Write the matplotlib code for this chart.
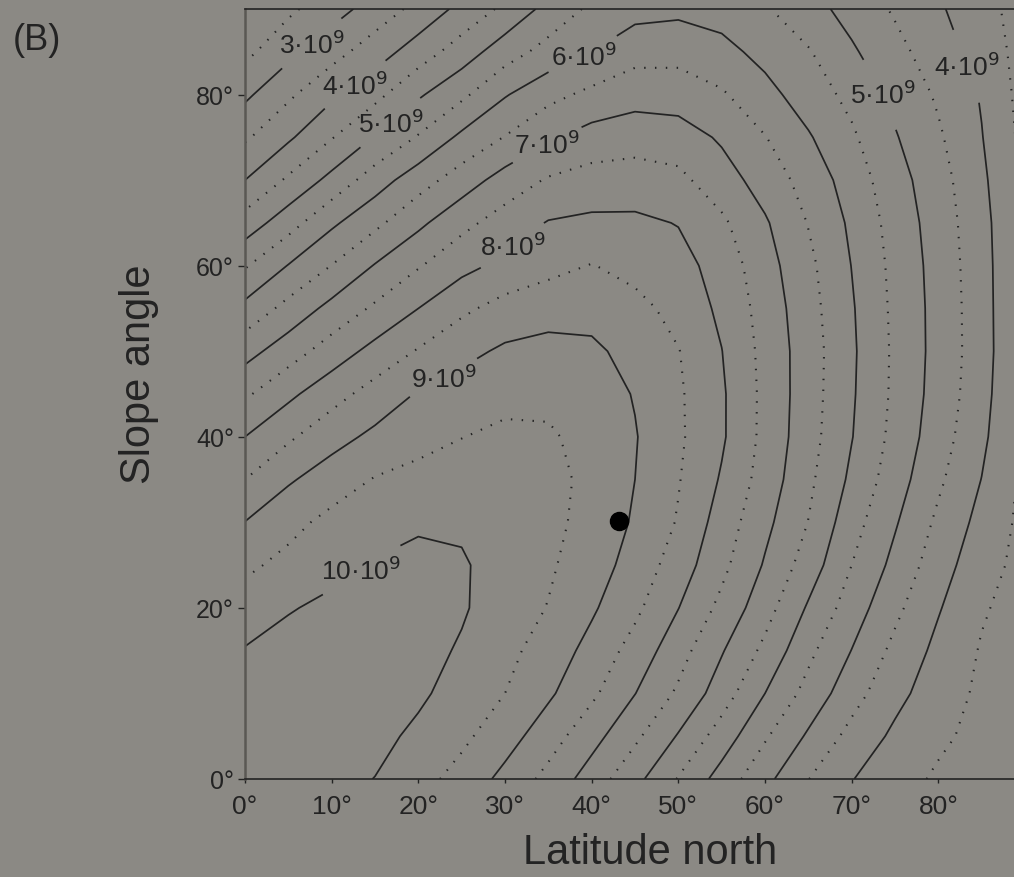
import matplotlib.pyplot as plt
import numpy as np

plt.rcParams['font.family'] = ['Liberation Sans', 'DejaVu Sans']

# grid nodes: latitude north and slope angle, in degrees
latitude = list(range(0, 95, 5))
slope = list(range(0, 95, 5))

# annual radiation in units of 10^9, one row per slope angle (0 ... 90),
# one column per latitude (0 ... 90)
radiation = [
    [10.32, 10.28, 10.16, 9.99, 9.68, 9.32, 8.86, 8.35, 7.77, 7.15, 6.47, 5.80, 5.14, 4.51, 4.02, 3.69, 3.43, 3.27, 3.12],
    [10.30, 10.32, 10.22, 10.15, 9.89, 9.61, 9.21, 8.73, 8.18, 7.60, 6.96, 6.27, 5.56, 4.93, 4.34, 3.90, 3.59, 3.36, 3.18],
    [10.20, 10.30, 10.30, 10.22, 10.09, 9.79, 9.50, 9.08, 8.60, 8.01, 7.42, 6.75, 6.00, 5.33, 4.70, 4.15, 3.73, 3.41, 3.20],
    [10.03, 10.20, 10.28, 10.25, 10.16, 9.95, 9.64, 9.28, 8.84, 8.31, 7.70, 7.04, 6.38, 5.62, 4.99, 4.37, 3.87, 3.46, 3.25],
    [9.73, 9.96, 10.12, 10.20, 10.20, 10.05, 9.77, 9.48, 9.07, 8.61, 8.01, 7.37, 6.70, 5.94, 5.26, 4.62, 4.04, 3.55, 3.30],
    [9.40, 9.64, 9.84, 10.03, 10.10, 10.05, 9.81, 9.57, 9.23, 8.81, 8.26, 7.63, 6.95, 6.27, 5.50, 4.86, 4.23, 3.68, 3.35],
    [9.01, 9.35, 9.64, 9.84, 9.95, 9.93, 9.85, 9.63, 9.34, 8.94, 8.46, 7.78, 7.13, 6.49, 5.70, 5.05, 4.40, 3.84, 3.36],
    [8.50, 8.94, 9.25, 9.53, 9.68, 9.73, 9.72, 9.66, 9.37, 9.00, 8.53, 7.95, 7.29, 6.61, 5.90, 5.23, 4.59, 3.99, 3.38],
    [8.00, 8.42, 8.82, 9.11, 9.30, 9.49, 9.60, 9.58, 9.29, 9.03, 8.58, 8.07, 7.36, 6.70, 6.02, 5.35, 4.73, 4.12, 3.33],
    [7.42, 7.89, 8.31, 8.70, 9.04, 9.22, 9.36, 9.35, 9.25, 8.97, 8.57, 8.07, 7.37, 6.73, 6.06, 5.40, 4.80, 4.20, 3.35],
    [6.81, 7.27, 7.73, 8.16, 8.54, 8.86, 9.08, 9.16, 9.11, 8.81, 8.52, 8.01, 7.35, 6.74, 6.08, 5.41, 4.83, 4.23, 3.40],
    [6.14, 6.66, 7.15, 7.58, 8.00, 8.40, 8.68, 8.80, 8.80, 8.66, 8.33, 7.90, 7.30, 6.69, 6.05, 5.39, 4.83, 4.22, 3.40],
    [5.45, 6.02, 6.51, 7.03, 7.46, 7.85, 8.13, 8.35, 8.52, 8.33, 8.18, 7.80, 7.20, 6.62, 5.99, 5.36, 4.81, 4.20, 3.42],
    [4.71, 5.29, 5.91, 6.38, 6.89, 7.36, 7.72, 8.03, 8.10, 8.10, 7.98, 7.59, 7.06, 6.48, 5.91, 5.30, 4.77, 4.17, 3.42],
    [4.00, 4.58, 5.15, 5.76, 6.28, 6.74, 7.21, 7.55, 7.70, 7.72, 7.62, 7.23, 6.78, 6.31, 5.77, 5.20, 4.70, 4.10, 3.40],
    [3.43, 3.92, 4.47, 5.03, 5.54, 6.11, 6.52, 6.93, 7.20, 7.30, 7.25, 6.93, 6.52, 6.05, 5.58, 5.04, 4.57, 4.02, 3.35],
    [2.90, 3.41, 3.90, 4.35, 4.93, 5.39, 5.96, 6.35, 6.62, 6.80, 6.75, 6.56, 6.16, 5.76, 5.36, 4.87, 4.43, 3.96, 3.30],
    [2.37, 2.86, 3.31, 3.76, 4.24, 4.74, 5.27, 5.68, 6.00, 6.32, 6.35, 6.15, 5.85, 5.54, 5.07, 4.65, 4.24, 3.79, 3.30],
    [2.05, 2.40, 2.79, 3.21, 3.65, 4.14, 4.61, 5.16, 5.60, 5.82, 5.88, 5.80, 5.55, 5.19, 4.82, 4.44, 4.07, 3.66, 3.30],
]

solid_levels = [3, 4, 5, 6, 7, 8, 9, 10]
dotted_levels = [2.5, 3.5, 4.5, 5.5, 6.5, 7.5, 8.5, 9.5]

# where the labels sit (latitude, slope)
label_pos = [(8.1, 85.5), (12.9, 80.9), (16.7, 76.8), (39.0, 84.7),
             (35.0, 73.9), (30.6, 62.7), (22.9, 46.9), (13.5, 24.4),
             (73.7, 80.2), (83.5, 83.4)]

site_lat = [43.1]
site_slope = [30.1]

xticks = [0, 10, 20, 30, 40, 50, 60, 70, 80]
yticks = [0, 20, 40, 60, 80]

bg = '#8b8984'
ink = '#232323'

fig = plt.figure(figsize=(10.14, 8.78), dpi=100, facecolor=bg)
ax = fig.add_axes([245 / 1014, 98 / 878, 780 / 1014, 770 / 878])
ax.set_facecolor(bg)

Z = np.array(radiation)

ax.contour(latitude, slope, Z, levels=dotted_levels, colors=ink,
           linewidths=1.5, linestyles=[(0, (0.7, 4.5))])
cs = ax.contour(latitude, slope, Z, levels=solid_levels, colors=ink,
                linewidths=1.25, linestyles='solid')

labels = ax.clabel(cs, manual=label_pos, inline=True, inline_spacing=6,
                   fmt=lambda v: f'{v:g}·10$^9$', fontsize=19, colors=ink)
for t in labels:
    t.set_rotation(0)

ax.plot(site_lat, site_slope, 'o', color='black', ms=13)

ax.set_xlim(0, 90)
ax.set_ylim(0, 90)
ax.set_xticks(xticks)
ax.set_xticklabels([f'{v}°' for v in xticks])
ax.set_yticks(yticks)
ax.set_yticklabels([f'{v}°' for v in yticks])
ax.tick_params(axis='x', direction='out', length=3, width=1, pad=8,
               labelsize=19, colors=ink)
ax.tick_params(axis='y', direction='out', length=5, width=1, pad=3,
               labelsize=18, colors=ink)

ax.spines['left'].set_color('#5a5854')
ax.spines['left'].set_linewidth(1.8)
ax.spines['bottom'].set_color(ink)
ax.spines['bottom'].set_linewidth(1.2)
ax.spines['top'].set_color(ink)
ax.spines['top'].set_linewidth(1.2)
ax.spines['right'].set_visible(False)

fig.text(139 / 1014, 1 - 374 / 878, 'Slope angle', rotation=90,
         ha='center', va='center', fontsize=30, color=ink)
fig.text(650 / 1014, 1 - 853 / 878, 'Latitude north',
         ha='center', va='center', fontsize=30, color=ink)
fig.text(13 / 1014, 1 - 40 / 878, '(B)', ha='left', va='center',
         fontsize=26, color=ink)

fig.savefig('out.png', dpi=100, facecolor=bg)
